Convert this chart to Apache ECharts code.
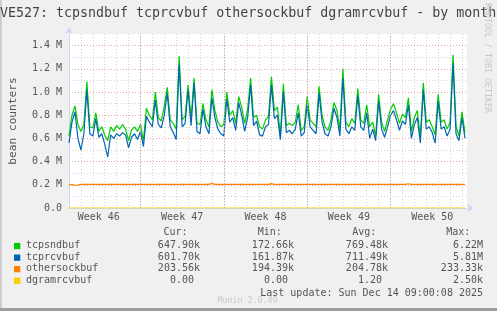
<!DOCTYPE html>
<html><head><meta charset="utf-8">
<script src="https://cdn.jsdelivr.net/npm/echarts@6/dist/echarts.min.js"></script>
<style>html,body{margin:0;padding:0;background:#f0f0f0}#c{width:497px;height:311px}</style>
</head><body><div id="c"></div>
<script>
const titleText = 'VE527: tcpsndbuf tcprcvbuf othersockbuf dgramrcvbuf - by month';
const yAxisName = 'bean counters';
const weekLabels = ['Week 46', 'Week 47', 'Week 48', 'Week 49', 'Week 50'];
const weekMidDays = [2.5, 9.5, 16.5, 23.5, 30.5];
const weekStartDays = [6, 13, 20, 27];
const rangeDays = 33.42;
const stepDays = 0.25;

const seriesNames = ['tcpsndbuf', 'tcprcvbuf', 'othersockbuf', 'dgramrcvbuf'];
const curVals = ['647.90k', '601.70k', '203.56k', '0.00 '];
const minVals = ['172.66k', '161.87k', '194.39k', '0.00 '];
const avgVals = ['769.48k', '711.49k', '204.78k', '1.20 '];
const maxVals = ['6.22M', '5.81M', '233.33k', '2.50k'];
const lastUpdate = 'Last update: Sun Dec 14 09:00:08 2025';
const versionText = 'Munin 2.0.49';
const vendorText = 'RRDTOOL / TOBI OETIKER';

// values in millions
const tcpsndbuf = [
0.62,0.80,0.88,0.72,0.66,0.72,1.09,0.70,0.69,0.82,
0.66,0.70,0.63,0.58,0.70,0.66,0.71,0.68,0.72,0.68,
0.58,0.67,0.70,0.66,0.72,0.58,0.86,0.80,0.76,1.00,
0.78,0.75,0.88,1.04,0.76,0.73,0.68,1.31,0.76,0.79,
1.06,0.77,1.12,0.73,0.72,0.90,0.76,0.70,1.02,0.84,
0.74,0.70,0.72,1.00,0.80,0.84,0.73,0.96,0.87,0.73,
0.85,1.12,0.78,0.80,0.70,0.68,0.76,0.79,1.13,0.84,
0.87,0.63,1.07,0.71,0.73,0.71,0.74,0.89,0.67,0.70,
0.96,0.76,0.73,0.70,1.05,0.80,0.70,0.67,0.76,0.91,
0.84,0.68,1.20,0.74,0.70,0.77,0.73,1.03,0.76,0.73,
0.89,0.70,0.74,0.62,0.98,0.74,0.66,0.76,0.85,0.90,
0.82,0.73,0.81,0.78,0.95,0.66,0.78,0.84,0.60,1.08,
0.74,0.76,0.70,0.63,0.98,0.74,0.76,0.68,0.74,1.32,
0.70,0.62,0.83,0.648];
const tcprcvbuf = [
0.56,0.74,0.83,0.60,0.50,0.64,1.02,0.64,0.62,0.77,
0.61,0.64,0.55,0.44,0.63,0.60,0.64,0.62,0.65,0.63,
0.52,0.61,0.64,0.59,0.66,0.53,0.79,0.74,0.70,0.93,
0.72,0.69,0.80,0.99,0.70,0.65,0.59,1.24,0.70,0.73,
1.02,0.71,1.08,0.66,0.64,0.85,0.70,0.64,0.95,0.78,
0.68,0.64,0.62,0.94,0.74,0.78,0.67,0.91,0.80,0.66,
0.78,1.06,0.71,0.75,0.63,0.62,0.70,0.72,1.06,0.77,
0.80,0.59,1.00,0.65,0.67,0.64,0.68,0.82,0.62,0.65,
0.89,0.70,0.67,0.64,0.99,0.74,0.64,0.62,0.70,0.86,
0.78,0.62,1.12,0.68,0.64,0.70,0.67,0.97,0.70,0.67,
0.82,0.60,0.68,0.58,0.92,0.68,0.61,0.70,0.80,0.84,
0.76,0.67,0.75,0.72,0.89,0.60,0.72,0.78,0.56,1.02,
0.68,0.70,0.65,0.56,0.92,0.68,0.70,0.62,0.68,1.25,
0.64,0.58,0.78,0.602];
const othersockbuf = [
0.197,0.203,0.196,0.197,0.2036,0.2036,0.2036,0.2036,0.2036,0.2036,
0.2036,0.2036,0.2036,0.2036,0.2036,0.2036,0.2036,0.2036,0.2036,0.2036,
0.2036,0.2036,0.2036,0.2036,0.2036,0.2036,0.2036,0.2036,0.2036,0.2036,
0.2036,0.2036,0.2036,0.2036,0.2036,0.2036,0.2036,0.2036,0.2036,0.2036,
0.2036,0.2036,0.2036,0.2036,0.2036,0.2036,0.2036,0.2036,0.212,0.2036,
0.2036,0.2036,0.2036,0.2036,0.2036,0.2036,0.2036,0.2036,0.2036,0.2036,
0.2036,0.2036,0.2036,0.2036,0.2036,0.2036,0.2036,0.2036,0.210,0.2036,
0.2036,0.2036,0.2036,0.2036,0.2036,0.2036,0.2036,0.2036,0.2036,0.2036,
0.2036,0.2036,0.2036,0.2036,0.2036,0.2036,0.2036,0.2036,0.2036,0.2036,
0.2036,0.2036,0.2036,0.2036,0.2036,0.2036,0.2036,0.2036,0.2036,0.2036,
0.2036,0.2036,0.2036,0.2036,0.2036,0.2036,0.2036,0.2036,0.2036,0.2036,
0.2036,0.2036,0.2036,0.2036,0.209,0.2036,0.2036,0.2036,0.2036,0.2036,
0.2036,0.2036,0.2036,0.2036,0.2036,0.2036,0.2036,0.2036,0.2036,0.2036,
0.2036,0.2036,0.2036,0.20356];
const dgramrcvbuf = [
0,0,0,0,0,0,0,0,0,0, 0,0,0,0,0,0,0,0,0,0,
0,0,0,0,0,0,0,0,0,0, 0,0,0,0,0,0,0,0,0,0,
0,0,0,0,0,0,0,0,0,0, 0,0,0,0,0,0,0,0,0,0,
0,0,0,0,0,0,0,0,0,0, 0,0,0,0,0,0,0,0,0,0,
0,0,0,0,0,0,0,0,0,0, 0,0,0,0,0,0,0,0,0,0,
0,0,0,0,0,0,0,0,0,0, 0,0,0,0,0,0,0,0,0,0,
0,0,0,0,0,0,0,0,0,0, 0,0,0,0];

const FONT = 'DejaVu Sans Mono';
const TXT = '#555555';
const colors = ['#00cc00', '#0066b3', '#ff8000', '#ffcc00'];
const allData = [tcpsndbuf, tcprcvbuf, othersockbuf, dgramrcvbuf];
const toPts = arr => arr.map((v, i) => [i * stepDays, v]);

const series = allData.map((arr, k) => ({
  name: seriesNames[k], type: 'line', data: toPts(arr), showSymbol: false,
  lineStyle: { color: colors[k], width: 1.2 }, itemStyle: { color: colors[k] },
  z: k === 3 ? 1 : 2, silent: true
}));
series[3].markLine = {
  silent: true, symbol: 'none', label: { show: false },
  lineStyle: { color: '#e8a0a0', type: [1, 2], width: 1 },
  data: weekStartDays.map(d => ({ xAxis: d }))
};

const g = [];
// borders
g.push({ type: 'rect', shape: { x: 0, y: 0, width: 2, height: 311 }, style: { fill: '#cfcfcf' } });
g.push({ type: 'rect', shape: { x: 0, y: 308, width: 497, height: 3 }, style: { fill: '#9e9e9e' } });
// title
g.push({ type: 'text', x: 0, y: 14, style: { text: titleText, font: '13.3px "' + FONT + '"', fill: '#444', textVerticalAlign: 'middle' } });
// vendor
g.push({ type: 'text', x: 487, y: 58, rotation: -Math.PI / 2, style: { text: vendorText, font: '8.3px "' + FONT + '"', fill: '#c8c8c8', textAlign: 'center', textVerticalAlign: 'middle' } });
// legend header
const hdrY = 232.5;
[['Cur:', 163.5], ['Min:', 257.8], ['Avg:', 352.2], ['Max:', 446.2]].forEach(([t, x]) =>
  g.push({ type: 'text', x, y: hdrY, style: { text: t, font: '10px "' + FONT + '"', fill: TXT, textVerticalAlign: 'middle' } }));
const rowY = [245.7, 257.3, 268.8, 280.4];
seriesNames.forEach((n, k) => {
  const y = rowY[k];
  g.push({ type: 'rect', shape: { x: 14, y: y - 2.8, width: 6.3, height: 6.3 }, style: { fill: colors[k] } });
  g.push({ type: 'text', x: 26, y, style: { text: n, font: '10px "' + FONT + '"', fill: TXT, textVerticalAlign: 'middle' } });
  [[curVals, 200], [minVals, 294], [avgVals, 388], [maxVals, 483]].forEach(([arr, x]) =>
    g.push({ type: 'text', x, y, style: { text: arr[k], font: '10px "' + FONT + '"', fill: TXT, textAlign: 'right', textVerticalAlign: 'middle' } }));
});
g.push({ type: 'text', x: 483, y: 293.3, style: { text: lastUpdate, font: '10px "' + FONT + '"', fill: TXT, textAlign: 'right', textVerticalAlign: 'middle' } });
g.push({ type: 'text', x: 247.5, y: 301, style: { text: versionText, font: '8.3px "' + FONT + '"', fill: '#c8c8c8', textAlign: 'center', textVerticalAlign: 'middle' } });

const chart = echarts.init(document.getElementById('c'), null, { renderer: 'canvas' });
chart.setOption({
  backgroundColor: '#f0f0f0',
  animation: false,
  textStyle: { fontFamily: FONT },
  grid: { left: 66, right: 30, top: 34, bottom: 103, show: true, backgroundColor: '#ffffff', borderWidth: 0 },
  xAxis: [{
    type: 'value', min: 0, max: rangeDays, interval: 1,
    axisLine: { show: true, lineStyle: { color: '#cfd6f8', width: 1 }, symbol: ['none', 'arrow'], symbolSize: [6, 7], symbolOffset: [0, 7] },
    axisTick: { show: false },
    axisLabel: {
      customValues: weekMidDays,
      formatter: v => { const i = weekMidDays.indexOf(v); return i >= 0 ? weekLabels[i] : ''; },
      color: TXT, fontSize: 10, margin: 4, fontFamily: FONT
    },
    splitLine: { show: true, showMaxLine: false, lineStyle: { color: '#d2d2d2', type: [1, 2], width: 1 } }
  }],
  yAxis: [{
    type: 'value', min: 0, max: 1.5, interval: 0.1,
    axisLine: { show: true, lineStyle: { color: '#cfd6f8', width: 1 }, symbol: ['none', 'arrow'], symbolSize: [6, 7], symbolOffset: [0, 7] },
    axisTick: { show: false }, axisLabel: { show: false },
    splitLine: { show: true, showMaxLine: false, lineStyle: { color: '#d2d2d2', type: [1, 2], width: 1 } },
    name: yAxisName, nameLocation: 'middle', nameGap: 50,
    nameTextStyle: { color: TXT, fontSize: 11.2, fontFamily: FONT }
  }, {
    type: 'value', min: 0, max: 1.5, interval: 0.2, position: 'left',
    axisLine: { show: false }, axisTick: { show: false },
    axisLabel: {
      showMaxLabel: false, color: TXT, fontSize: 10, margin: 7, fontFamily: FONT,
      formatter: v => v > 1.45 ? '' : (v === 0 ? '0.0' : v.toFixed(1) + ' M')
    },
    splitLine: { show: true, showMinLine: false, showMaxLine: false, lineStyle: { color: '#e8a0a0', type: [1, 2], width: 1 } }
  }],
  series,
  graphic: { elements: g }
});
</script></body></html>
